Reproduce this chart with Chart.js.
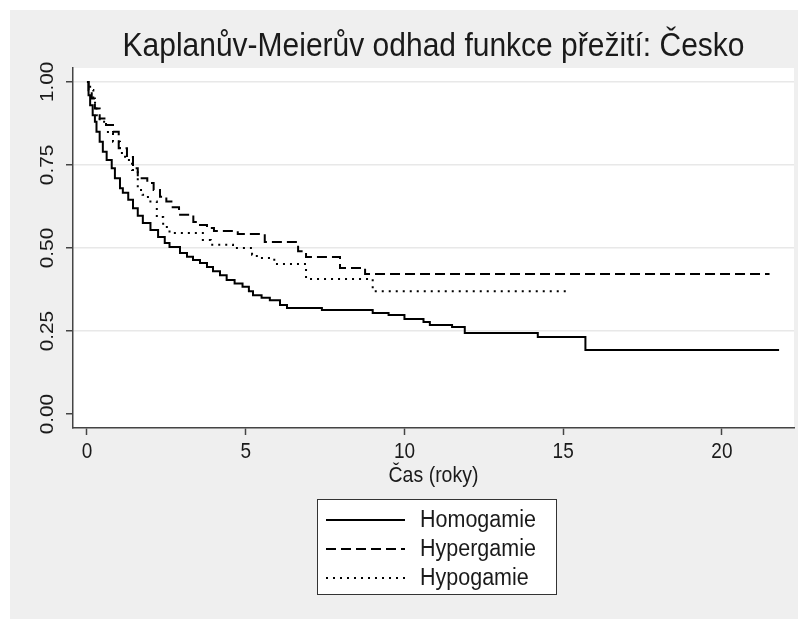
<!DOCTYPE html>
<html>
<head>
<meta charset="utf-8">
<title>Kaplanův-Meierův odhad funkce přežití: Česko</title>
<script src="https://cdn.jsdelivr.net/npm/chart.js@4.4.1/dist/chart.umd.min.js"></script>
<style>
  html, body { margin: 0; padding: 0; background: #fff; }
  canvas { display: block; }
</style>
</head>
<body>
<canvas id="kmChart" width="798" height="619"></canvas>
<script>
// popisky a hodnoty
var seriesNames = ["Homogamie", "Hypergamie", "Hypogamie"];

var homTime = [0, 0.05, 0.1, 0.18, 0.25, 0.3, 0.4, 0.5, 0.62, 0.78, 0.88, 1.04, 1.13, 1.3, 1.45, 1.6, 1.76, 2.0, 2.24, 2.45, 2.6, 2.93, 3.15, 3.34, 3.56, 3.78, 3.97, 4.19, 4.4, 4.65, 4.9, 5.1, 5.23, 5.5, 5.76, 6.08, 6.3, 7.4, 9.0, 9.5, 10.0, 10.6, 10.8, 11.5, 11.9, 14.2, 15.7, 21.8];
var homSurv = [1, 0.96, 0.93, 0.9, 0.88, 0.85, 0.82, 0.79, 0.765, 0.74, 0.71, 0.68, 0.666, 0.645, 0.62, 0.597, 0.575, 0.554, 0.533, 0.515, 0.503, 0.485, 0.474, 0.464, 0.455, 0.443, 0.43, 0.418, 0.404, 0.393, 0.383, 0.37, 0.358, 0.35, 0.343, 0.328, 0.319, 0.313, 0.304, 0.298, 0.286, 0.277, 0.268, 0.262, 0.244, 0.232, 0.193, 0.193];

var hypTime = [0, 0.05, 0.15, 0.25, 0.4, 0.6, 0.82, 1.0, 1.26, 1.45, 1.6, 1.9, 2.1, 2.3, 2.5, 2.7, 2.9, 3.35, 3.56, 3.78, 4.0, 4.75, 5.6, 6.65, 6.9, 7.97, 8.76, 21.5];
var hypSurv = [1, 0.975, 0.95, 0.92, 0.89, 0.87, 0.85, 0.8, 0.774, 0.74, 0.71, 0.696, 0.675, 0.654, 0.64, 0.623, 0.6, 0.578, 0.569, 0.56, 0.551, 0.542, 0.518, 0.49, 0.473, 0.44, 0.422, 0.422];

var hpoTime = [0, 0.1, 0.2, 0.3, 0.4, 0.66, 0.82, 1.04, 1.2, 1.42, 1.6, 1.75, 1.92, 2.2, 2.4, 2.6, 3.65, 3.9, 4.6, 5.2, 5.35, 5.9, 6.9, 9.0, 15.1];
var hpoSurv = [1, 0.976, 0.937, 0.9, 0.88, 0.846, 0.82, 0.786, 0.765, 0.735, 0.675, 0.66, 0.64, 0.593, 0.563, 0.545, 0.524, 0.51, 0.5, 0.48, 0.47, 0.452, 0.407, 0.37, 0.37];

var xTicks = [0, 5, 10, 15, 20];
var yTicks = [0, 0.25, 0.5, 0.75, 1];

var chartTitle = "Kaplanův-Meierův odhad funkce přežití: Česko";
var xTitle = "Čas (roky)";

function toPoints(t, s) {
  return t.map(function (v, i) { return { x: v, y: s[i] }; });
}

var FONT = '"Liberation Sans", Arial, sans-serif';
var TEXT = "#1a1a1a";
var STRETCH = 1.12;   // stata font is taller than wide

function drawText(ctx, txt, x, y, size, align, rot) {
  ctx.save();
  ctx.translate(x, y);
  ctx.scale(1, STRETCH);
  if (rot) ctx.rotate(rot);
  ctx.font = size + "px " + FONT;
  ctx.fillStyle = TEXT;
  ctx.textAlign = align;
  ctx.textBaseline = "middle";
  ctx.fillText(txt, 0, 0);
  ctx.restore();
}

// pozadi: sedy ramec + bila plocha grafu
var bgPlugin = {
  id: "bg",
  beforeDraw: function (chart) {
    var ctx = chart.ctx, a = chart.chartArea;
    ctx.save();
    ctx.fillStyle = "#fff";
    ctx.fillRect(0, 0, chart.width, chart.height);
    ctx.fillStyle = "#efefef";
    ctx.fillRect(10, 10, chart.width - 10, chart.height - 10);
    ctx.fillStyle = "#fff";
    ctx.fillRect(a.left, a.top, a.right - a.left, a.bottom - a.top);
    ctx.restore();
  }
};

// texty: nadpis, popisky os, legenda
var textPlugin = {
  id: "texts",
  afterDraw: function (chart) {
    var ctx = chart.ctx, a = chart.chartArea;
    var xs = chart.scales.x, ys = chart.scales.y;
    var cx = (a.left + a.right) / 2;

    drawText(ctx, chartTitle, cx, 47, 30, "center");

    xs.ticks.forEach(function (t) {
      drawText(ctx, String(t.value), xs.getPixelForValue(t.value), 452, 19, "center");
    });
    ys.ticks.forEach(function (t) {
      drawText(ctx, t.value.toFixed(2), 48, ys.getPixelForValue(t.value), 18.5, "center", -Math.PI / 2);
    });
    drawText(ctx, xTitle, cx, 476, 19.5, "center");

    // legenda
    var bx = 317, by = 499, bw = 239, bh = 95;
    ctx.save();
    ctx.fillStyle = "#fff";
    ctx.fillRect(bx, by, bw, bh);
    ctx.strokeStyle = "#333";
    ctx.lineWidth = 1;
    ctx.strokeRect(bx + 0.5, by + 0.5, bw, bh);
    chart.data.datasets.forEach(function (ds, i) {
      var ry = 520 + i * 29;
      ctx.beginPath();
      ctx.setLineDash(ds.borderDash || []);
      ctx.strokeStyle = ds.borderColor;
      ctx.lineWidth = ds.borderWidth;
      ctx.moveTo(326, ry);
      ctx.lineTo(405, ry);
      ctx.stroke();
    });
    ctx.restore();
    chart.data.datasets.forEach(function (ds, i) {
      drawText(ctx, ds.label, 420, 520 + i * 29, 21.5, "left");
    });
  }
};

function fixTicks(list) {
  return function (scale) {
    scale.ticks = list.map(function (v) { return { value: v }; });
  };
}

var ctx = document.getElementById("kmChart");
var kmChart = new Chart(ctx, {
  type: "line",
  data: {
    datasets: [
      {
        label: seriesNames[0],
        data: toPoints(homTime, homSurv),
        borderColor: "#000",
        borderWidth: 2,
        borderDash: [],
        stepped: true,
        pointRadius: 0,
        fill: false
      },
      {
        label: seriesNames[1],
        data: toPoints(hypTime, hypSurv),
        borderColor: "#000",
        borderWidth: 2,
        borderDash: [10, 5],
        stepped: true,
        pointRadius: 0,
        fill: false
      },
      {
        label: seriesNames[2],
        data: toPoints(hpoTime, hpoSurv),
        borderColor: "#000",
        borderWidth: 2,
        borderDash: [2, 5],
        stepped: true,
        pointRadius: 0,
        fill: false
      }
    ]
  },
  options: {
    responsive: false,
    animation: false,
    devicePixelRatio: 1,
    layout: { padding: { left: 73, right: 4, top: 68, bottom: 191 } },
    plugins: {
      legend: { display: false },
      title: { display: false },
      tooltip: { enabled: false }
    },
    scales: {
      x: {
        type: "linear",
        min: -0.44,
        max: 22.27,
        afterBuildTicks: fixTicks(xTicks),
        afterFit: function (s) { s.height = 0; },
        ticks: { display: false },
        grid: { drawOnChartArea: false, tickLength: 7, tickColor: "#444", tickWidth: 1.5 },
        border: { display: true, color: "#444", width: 1.5 }
      },
      y: {
        type: "linear",
        min: -0.042,
        max: 1.042,
        afterBuildTicks: fixTicks(yTicks),
        afterFit: function (s) { s.width = 0; },
        ticks: { display: false },
        grid: {
          color: function (c) { return c.tick && c.tick.value === 0 ? "rgba(0,0,0,0)" : "#e8e8e8"; },
          lineWidth: 1.5,
          tickLength: 7,
          tickColor: "#444",
          tickWidth: 1.5
        },
        border: { display: true, color: "#444", width: 1.5 }
      }
    }
  },
  plugins: [bgPlugin, textPlugin]
});
</script>
</body>
</html>
